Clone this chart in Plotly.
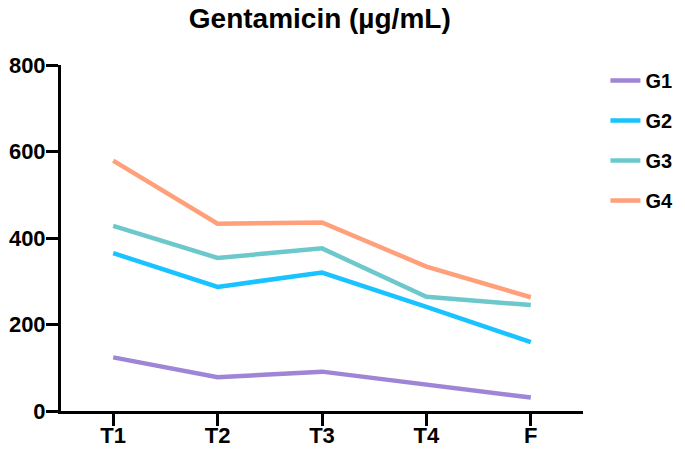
"""
Gentamicin concentration over time for four groups
"""
import plotly.graph_objects as go

# Data
timepoints = ["T1", "T2", "T3", "T4", "F"]
groups = ["G1", "G2", "G3", "G4"]
g1_values = [124, 78, 91, 62, 31]
g2_values = [365, 287, 320, 241, 159]
g3_values = [428, 354, 376, 264, 245]
g4_values = [579, 433, 436, 334, 263]
colors = ["#9e85d6", "#19c3ff", "#6dc8cc", "#ffa07a"]
y_ticks = [0, 200, 400, 600, 800]

series = [g1_values, g2_values, g3_values, g4_values]

fig = go.Figure()
for i, name in enumerate(groups):
    fig.add_trace(go.Scatter(
        x=timepoints,
        y=series[i],
        mode="lines",
        name=name,
        legendgroup=name,
        line=dict(color=colors[i], width=4.5),
    ))

font_family = "Liberation Sans, Arial"
axis_font = dict(family=font_family, size=22, color="black", weight="bold")

# the page body keeps an 8px margin, so size the figure to fit inside it
fig.update_layout(
    width=669,
    height=437,
    margin=dict(l=53, r=94, t=57, b=34),
    plot_bgcolor="white",
    paper_bgcolor="white",
    title=dict(
        text="Gentamicin (µg/mL)",
        x=0.466, xanchor="center",
        y=1 - 10 / 437, yanchor="middle",
        font=dict(family=font_family, size=28, color="black", weight="bold"),
    ),
    legend=dict(
        xref="container", yref="container",
        x=0.893, y=0.879, xanchor="left", yanchor="top",
        font=dict(family=font_family, size=20, color="black", weight="bold"),
        tracegroupgap=11,
        bgcolor="rgba(0,0,0,0)",
    ),
    showlegend=True,
)

fig.update_xaxes(
    range=[-0.5, 4.5],
    showline=True, linecolor="black", linewidth=3,
    ticks="outside", ticklen=12, tickwidth=3, tickcolor="black",
    showgrid=False, zeroline=False, automargin=False,
    tickfont=axis_font,
    ticklabelstandoff=-9,
)

fig.update_yaxes(
    range=[0, 800],
    tickvals=y_ticks,
    showline=True, linecolor="black", linewidth=3,
    ticks="outside", ticklen=12, tickwidth=3, tickcolor="black",
    showgrid=False, zeroline=False, automargin=False,
    tickfont=axis_font,
    ticklabelstandoff=-4,
)

fig.write_html("out.html")
